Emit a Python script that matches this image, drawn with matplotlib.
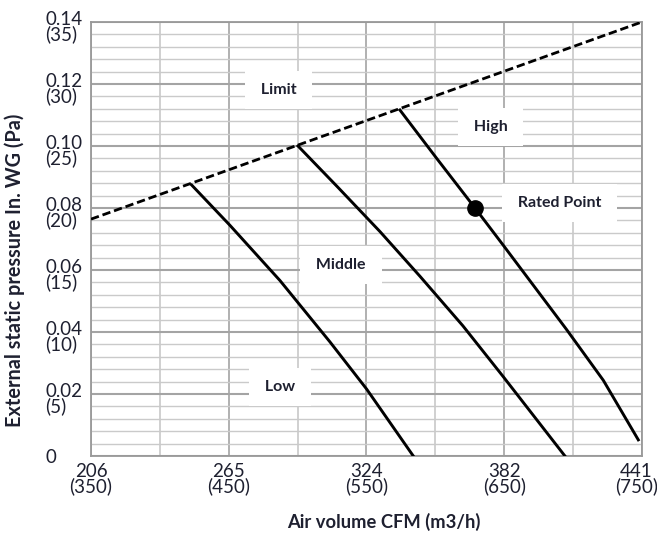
import matplotlib
matplotlib.use("Agg")
from matplotlib import pyplot as plt
from matplotlib.transforms import ScaledTranslation

plt.rcParams["font.family"] = ["Lato", "DejaVu Sans"]

# x in m3/h, y in Pa
limit_x = [350, 750]
limit_y = [19.1, 35.0]

low_x = [423.1, 450.9, 487.2, 523.5, 550.1, 584]
low_y = [21.85, 18.6, 14.15, 9.2, 5.4, 0]

mid_x = [500.3, 529, 559.8, 588.8, 620, 649.3, 694.1]
mid_y = [25.0, 21.7, 18.1, 14.5, 10.5, 6.4, 0]

high_x = [574.3, 601, 628.8, 649.3, 695.3, 722, 747.4]
high_y = [27.9, 24.0, 20.0, 17.0, 10.2, 6.1, 1.3]

rated_x = [628.8]
rated_y = [20.0]

xticks = [350, 450, 550, 650, 750]
xlabels = ["206\n(350)", "265\n(450)", "324\n(550)", "382\n(650)", "441\n(750)"]
yticks = [0, 5, 10, 15, 20, 25, 30, 35]
ylabels = ["0", "0.02\n(5)", "0.04\n(10)", "0.06\n(15)", "0.08\n(20)",
           "0.10\n(25)", "0.12\n(30)", "0.14\n(35)"]

curve_labels = [("Limit", 486, 29.5), ("High", 640, 26.5), ("Rated Point", 690, 20.4),
                ("Middle", 531.5, 15.4), ("Low", 487, 5.6)]

txt = "#1e2030"

fig = plt.figure(figsize=(6.57, 5.40), dpi=100)
ax = fig.add_axes([0.1385, 0.1556, 0.8385, 0.8037])

# grid
for v in range(350, 751, 50):
    major = v in xticks
    ax.axvline(v, color="#aaaaaa" if major else "#c4c4c4", lw=1.3 if major else 1.1, zorder=0)
for h in range(0, 36):
    major = h % 5 == 0
    ax.axhline(h, color="#a4a4a4" if major else "#cacaca", lw=1.5 if major else 1.0, zorder=0)

ax.plot(limit_x, limit_y, color="black", lw=2.0, ls=(0, (3, 1.4)), zorder=3)
ax.plot(low_x, low_y, color="black", lw=2.1, zorder=3)
ax.plot(mid_x, mid_y, color="black", lw=2.1, zorder=3)
ax.plot(high_x, high_y, color="black", lw=2.1, zorder=3)
ax.plot(rated_x, rated_y, "o", color="black", ms=11, zorder=4)

for name, x, y in curve_labels:
    ax.text(x, y, " " + name + " ", ha="center", va="center", fontsize=11.5,
            fontweight="bold", color=txt, zorder=2,
            bbox=dict(facecolor="white", edgecolor="none", boxstyle="square,pad=0.75"))

ax.set_xlim(350, 750)
ax.set_ylim(0, 35)
ax.set_xticks(xticks)
ax.set_xticklabels(xlabels, fontsize=13.5, color=txt, linespacing=0.85)
ax.set_yticks(yticks)
ax.set_yticklabels(ylabels, fontsize=13.5, color=txt, linespacing=0.85, ha="left")
ax.tick_params(axis="x", length=0, pad=5)
ax.tick_params(axis="y", length=0, pad=33)
for lab in ax.get_xticklabels():
    lab.set_multialignment("center")
for lab in ax.get_yticklabels()[1:]:
    lab.set_transform(lab.get_transform() + ScaledTranslation(0, -3.5 / 72, fig.dpi_scale_trans))
last = ax.get_xticklabels()[-1]
last.set_transform(last.get_transform() + ScaledTranslation(-4 / 72, 0, fig.dpi_scale_trans))
for s in ax.spines.values():
    s.set_color("#999999")
    s.set_linewidth(1.3)

fig.text(0.584, 0.033, "Air volume CFM (m3/h)", ha="center", va="center",
         fontsize=13.2, fontweight="bold", color=txt)
fig.text(0.023, 0.5, "External static pressure In. WG (Pa)", ha="center", va="center",
         rotation=90, fontsize=14.3, fontweight="bold", color=txt)

fig.savefig("out.png", dpi=100)
